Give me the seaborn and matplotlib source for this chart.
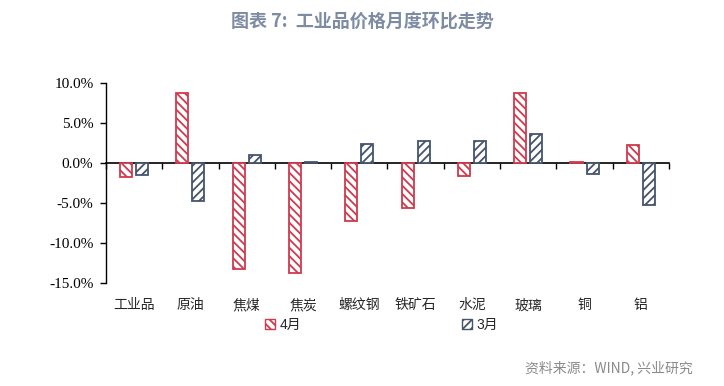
import matplotlib
matplotlib.use("Agg")
import matplotlib.pyplot as plt
from matplotlib.patches import Patch
from matplotlib.ticker import FuncFormatter, FixedLocator, NullFormatter
import seaborn as sns
import pandas as pd
import numpy as np

categories = ["工业品", "原油", "焦煤", "焦炭", "螺纹钢", "铁矿石", "水泥", "玻璃", "铜", "铝"]
april = [-1.8, 8.7, -13.3, -13.8, -7.2, -5.6, -1.6, 8.7, 0.1, 2.2]
march = [-1.5, -4.7, 1.0, 0.1, 2.4, 2.8, 2.8, 3.6, -1.4, -5.3]
series_names = ["4月", "3月"]
yticks = [-15, -10, -5, 0, 5, 10]

red = "#D03A4E"
navy = "#44546E"

sns.set_theme(style="white")
plt.rcParams["font.family"] = ["Noto Sans CJK SC", "DejaVu Sans"]
plt.rcParams["hatch.linewidth"] = 1.3

df = pd.DataFrame({
    "cat": categories * 2,
    "val": april + march,
    "month": [series_names[0]] * len(categories) + [series_names[1]] * len(categories),
})

fig = plt.figure(figsize=(7.24, 3.86), dpi=100)
ax = fig.add_axes([0.1464, 0.267, 0.924 - 0.1464, 0.785 - 0.267])

sns.barplot(data=df, x="cat", y="val", hue="month", hue_order=series_names,
            palette={series_names[0]: red, series_names[1]: navy},
            fill=False, linewidth=1.3, width=0.57, gap=0.25,
            errorbar=None, legend=False, ax=ax)

hatches = ["\\\\\\\\", "////"]
for cont, h, c in zip(ax.containers, hatches, [red, navy]):
    for p in cont:
        p.set_hatch(h)
        p.set_edgecolor(c)
        p.set_facecolor("white")

ax.set_xlim(-0.5, len(categories) - 0.5)
ax.set_ylim(-15, 10)
ax.yaxis.set_major_locator(FixedLocator(yticks))
ax.yaxis.set_major_formatter(FuncFormatter(lambda v, _: f"{v:.1f}%"))
ax.tick_params(axis="y", direction="out", length=4, width=1, pad=5, colors="black",
               left=True, labelsize=11, labelfontfamily="Liberation Serif")
ax.tick_params(axis="x", length=0, pad=11, labelsize=10)
ax.set_xlabel("")
ax.set_ylabel("")

for s in ["top", "right", "bottom"]:
    ax.spines[s].set_visible(False)
ax.spines["left"].set_color("black")
ax.spines["left"].set_linewidth(1)

# zero line with boundary ticks
sec = ax.secondary_xaxis(15 / 25)
sec.set_alignment("bottom")
sec.spines["bottom"].set_color("black")
sec.spines["bottom"].set_linewidth(1.2)
sec.spines["top"].set_visible(False)
sec.set_xticks(np.arange(-0.5, len(categories), 1.0))
sec.xaxis.set_major_formatter(NullFormatter())
sec.tick_params(axis="x", direction="out", length=4, width=1, colors="black",
                labelbottom=False, labeltop=False, top=False, bottom=True)

handles = [Patch(facecolor="white", edgecolor=red, hatch="\\\\\\\\", linewidth=1.0),
           Patch(facecolor="white", edgecolor=navy, hatch="////", linewidth=1.0)]
fig.legend(handles, series_names, loc="center", bbox_to_anchor=(0.527, 0.158), ncol=2,
           frameon=False, handlelength=0.7, handleheight=0.7,
           handletextpad=0.3, columnspacing=11.6,
           prop={"family": ["Liberation Sans", "Noto Sans CJK SC"], "size": 10})

fig.text(0.5, 0.943, "图表 7:  工业品价格月度环比走势", ha="center", va="center",
         fontsize=13, fontweight="bold", color="#7D8CA3")
fig.text(0.957, 0.047, "资料来源：WIND, 兴业研究", ha="right", va="center",
         fontsize=10, color="#8A8A8A")

fig.savefig("out.png", dpi=100)
